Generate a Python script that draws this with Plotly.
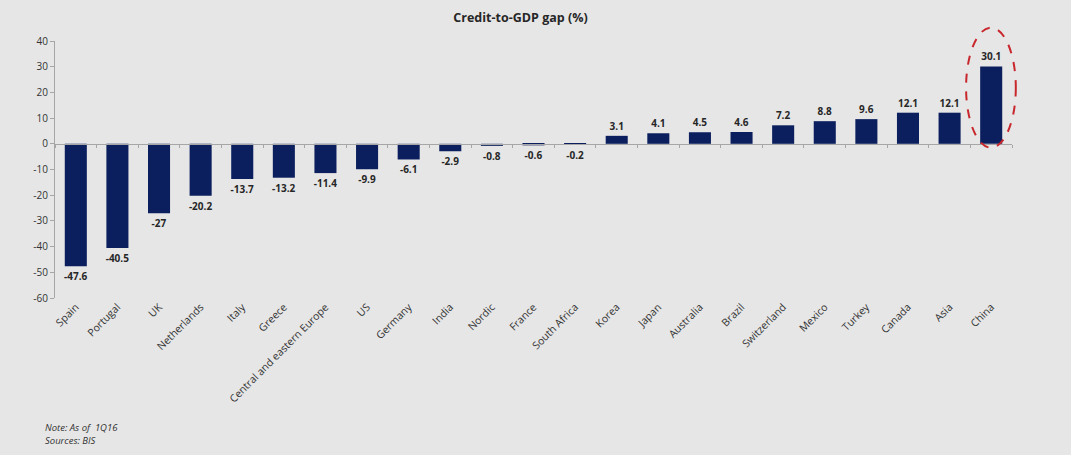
import plotly.graph_objects as go

categories = ["Spain", "Portugal", "UK", "Netherlands", "Italy", "Greece",
              "Central and eastern Europe", "US", "Germany", "India", "Nordic",
              "France", "South Africa", "Korea", "Japan", "Australia", "Brazil",
              "Switzerland", "Mexico", "Turkey", "Canada", "Asia", "China"]
gap_values = [-47.6, -40.5, -27, -20.2, -13.7, -13.2, -11.4, -9.9, -6.1, -2.9,
              -0.8, -0.6, -0.2, 3.1, 4.1, 4.5, 4.6, 7.2, 8.8, 9.6, 12.1, 12.1, 30.1]
y_ticks = [40, 30, 20, 10, 0, -10, -20, -30, -40, -50, -60]

y_min, y_max = -60, 40
zero_pos = (0 - y_min) / (y_max - y_min)

BG = "#e6e6e6"
NAVY = "#0b1f5e"
FONT = "Open Sans"

fig = go.Figure()
fig.add_trace(go.Bar(
    x=categories, y=gap_values, marker=dict(color=NAVY, line=dict(width=0)),
    text=[f"{v:g}" for v in gap_values], textposition="outside",
    constraintext="none",
    textfont=dict(family=FONT, size=10, color="#262626", weight="bold"),
    cliponaxis=False, showlegend=False, hoverinfo="x+y",
))
# invisible helper trace for the axis line drawn at zero
fig.add_trace(go.Scatter(x=categories, y=[0] * len(categories), xaxis="x2",
                         mode="lines", line=dict(width=0), showlegend=False,
                         hoverinfo="skip"))

fig.update_layout(
    width=1071, height=455,
    paper_bgcolor=BG, plot_bgcolor=BG,
    margin=dict(l=55, r=59, t=41, b=157, autoexpand=False),
    bargap=0.47,
    title=dict(text="<b>Credit-to-GDP gap (%)</b>", x=0.486, xref="container",
               y=0.962, yref="container", xanchor="center", yanchor="middle",
               font=dict(family=FONT, size=12.5, color="#262626")),
    xaxis=dict(tickangle=-45, showline=False, showgrid=False, ticks="",
               automargin=False,
               tickfont=dict(family=FONT, size=10.5, color="#333333"),
               range=[-0.5, len(categories) - 0.5]),
    xaxis2=dict(overlaying="x", anchor="free", position=zero_pos,
                showline=True, linecolor="#a6a6a6", linewidth=1,
                ticks="outside", ticklen=3, tickcolor="#a6a6a6",
                tickson="boundaries", showticklabels=False, showgrid=False,
                automargin=False,
                range=[-0.5, len(categories) - 0.5], type="category",
                categoryarray=categories, categoryorder="array"),
    yaxis=dict(range=[y_min, y_max], tickvals=y_ticks,
               ticktext=[str(v) for v in y_ticks], showgrid=False,
               zeroline=False, showline=True, linecolor="#a6a6a6",
               ticks="outside", ticklen=4, tickcolor="#a6a6a6", automargin=False,
               tickfont=dict(family=FONT, size=10, color="#333333")),
    shapes=[dict(type="circle", xref="paper", yref="paper",
                 x0=0.952, x1=1.004, y0=0.585, y1=1.052,
                 line=dict(color="#c8282d", width=2, dash="dash"))],
    annotations=[
        dict(text="<i>Note: As of  1Q16</i>", xref="paper", yref="paper",
             x=-0.0125, y=-0.502, xanchor="left", yanchor="middle",
             showarrow=False, font=dict(family=FONT, size=9.5, color="#333333")),
        dict(text="<i>Sources: BIS</i>", xref="paper", yref="paper",
             x=-0.0125, y=-0.553, xanchor="left", yanchor="middle",
             showarrow=False, font=dict(family=FONT, size=9.5, color="#333333")),
    ],
)

fig.write_html("out.html", config={"displayModeBar": False},
               post_script="document.body.style.margin='0';"
                           "document.body.style.background='#e6e6e6';")
